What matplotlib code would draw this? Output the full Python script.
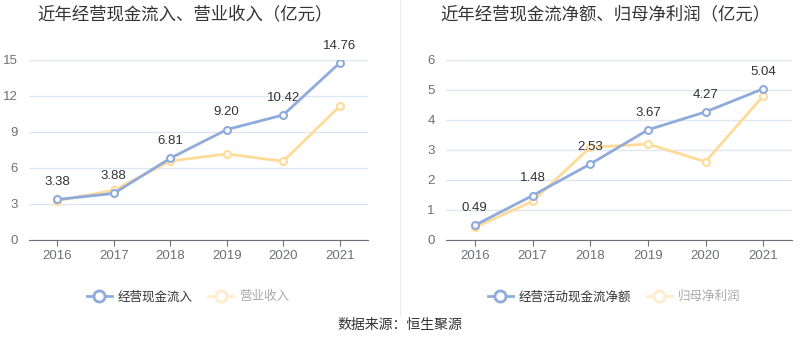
import matplotlib.pyplot as plt
from matplotlib.lines import Line2D

plt.rcParams['font.family'] = ['Liberation Sans', 'Noto Sans CJK SC', 'DejaVu Sans']

years = ['2016', '2017', '2018', '2019', '2020', '2021']
cash_in = [3.38, 3.88, 6.81, 9.20, 10.42, 14.76]
revenue = [3.28, 4.14, 6.58, 7.17, 6.56, 11.15]
cash_net = [0.49, 1.48, 2.53, 3.67, 4.27, 5.04]
net_profit = [0.42, 1.29, 3.09, 3.20, 2.61, 4.80]

BLUE = '#8fabdc'
YELLOW = '#ffdb99'
GRID = '#e0e6f1'
AXIS = '#6e7079'

W, H = 800, 358
fig = plt.figure(figsize=(8, 3.58), dpi=100)


def px_axes(x0, x1, ytop, ybot):
    return fig.add_axes([x0 / W, (H - ybot) / H, (x1 - x0) / W, (ybot - ytop) / H])


def draw(ax, a, b, ymax, step, title, names, title_x, leg_x):
    x = range(len(years))
    ax.plot(x, b, color=YELLOW, lw=2, marker='o', ms=5, mfc='white', mec=YELLOW, mew=1.5, zorder=3)
    ax.plot(x, a, color=BLUE, lw=2, marker='o', ms=5, mfc='white', mec=BLUE, mew=1.5, zorder=4)
    for i, v in enumerate(a):
        ax.annotate(f'{v:.2f}', (i, v), xytext=(0, 8), textcoords='offset points',
                    ha='center', va='bottom', fontsize=9.5, color='#333333')
    ax.set_xlim(-0.5, len(years) - 0.5)
    ax.set_ylim(0, ymax)
    ax.set_yticks([i * step for i in range(int(ymax / step) + 1)])
    ax.set_xticks(list(x))
    ax.set_xticklabels(years)
    ax.grid(axis='y', color=GRID, lw=1)
    ax.set_axisbelow(True)
    for s in ['top', 'right', 'left']:
        ax.spines[s].set_visible(False)
    ax.spines['bottom'].set_color(AXIS)
    ax.tick_params(axis='y', length=0, colors=AXIS, labelsize=9.5, pad=8)
    ax.tick_params(axis='x', length=4, colors=AXIS, labelsize=9.5, pad=3)
    fig.text(title_x / W, 1 - 14 / H, title, ha='center', va='center', fontsize=12.5, color='#333333')
    handles = [Line2D([], [], color=BLUE, lw=2, marker='o', ms=8, mfc='white', mec=BLUE, mew=2),
               Line2D([], [], color='#ffeccc', lw=2, marker='o', ms=8, mfc='white', mec='#ffeccc', mew=2)]
    leg = fig.legend(handles, names, loc='center', bbox_to_anchor=(leg_x / W, 1 - 297 / H),
                     ncol=2, frameon=False, fontsize=9, handlelength=2.0, handletextpad=0.5,
                     columnspacing=1.2)
    leg.get_texts()[0].set_color('#333333')
    leg.get_texts()[1].set_color('#aaaaaa')


ax1 = px_axes(29, 368, 60, 240)
draw(ax1, cash_in, revenue, 15, 3, '近年经营现金流入、营业收入（亿元）',
     ['经营现金流入', '营业收入'], 185, 188)

ax2 = px_axes(446, 792, 60, 240)
draw(ax2, cash_net, net_profit, 6, 1, '近年经营现金流净额、归母净利润（亿元）',
     ['经营活动现金流净额', '归母净利润'], 605, 614)

fig.add_artist(Line2D([400 / W, 400 / W], [1 - 315 / H, 1], color='#eeeeee', lw=1))
fig.text(400 / W, 1 - 325 / H, '数据来源：恒生聚源', ha='center', va='center', fontsize=10, color='#333333')

fig.savefig('out.png', dpi=100, facecolor='white')
